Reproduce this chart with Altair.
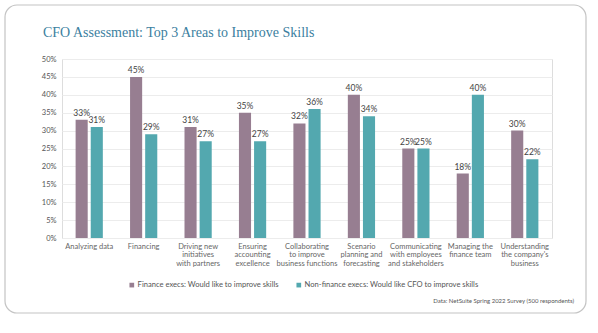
import altair as alt
import pandas as pd
import json

categories = [
    "Analyzing data", "Financing", "Driving new initiatives with partners",
    "Ensuring accounting excellence", "Collaborating to improve business functions",
    "Scenario planning and forecasting", "Communicating with employees and stakeholders",
    "Managing the finance team", "Understanding the company's business",
]
label_lines = [
    ["Analyzing data"], ["Financing"], ["Driving new", "initiatives", "with partners"],
    ["Ensuring", "accounting", "excellence"], ["Collaborating", "to improve", "business functions"],
    ["Scenario", "planning and", "forecasting"], ["Communicating", "with employees", "and stakeholders"],
    ["Managing the", "finance team"], ["Understanding", "the company's", "business"],
]
series = [
    "Finance execs: Would like to improve skills",
    "Non-finance execs: Would like CFO to improve skills",
]
finance_vals = [33, 45, 31, 35, 32, 40, 25, 18, 30]
nonfinance_vals = [31, 29, 27, 27, 36, 34, 25, 40, 22]
colors = ["#977E91", "#53A8AF"]
title_text = "CFO Assessment: Top 3 Areas to Improve Skills"
source_text = "Data: NetSuite Spring 2022 Survey (500 respondents)"

rows = []
for c, a, b in zip(categories, finance_vals, nonfinance_vals):
    rows.append({"cat": c, "series": series[0], "value": a / 100, "label": f"{a}%"})
    rows.append({"cat": c, "series": series[1], "value": b / 100, "label": f"{b}%"})
df = pd.DataFrame(rows)

label_map = {c: l for c, l in zip(categories, label_lines)}
expr = "(" + json.dumps(label_map) + ")[datum.value]"

font = "Lato"

y_enc = alt.Y(
    "value:Q", title=None,
    scale=alt.Scale(domain=[0, 0.5]),
    axis=alt.Axis(
        format=".0%", values=[i / 100 for i in range(0, 51, 5)],
        labelFontSize=7.5, labelColor="#555", labelFont=font, ticks=False,
        domain=False, gridColor="#ececec", labelPadding=6,
    ),
)

base = alt.Chart(df).encode(
    x=alt.X(
        "cat:N", sort=categories, title=None,
        scale=alt.Scale(paddingInner=0.5, paddingOuter=0.25),
        axis=alt.Axis(
            labelExpr=expr, labelAngle=0, labelFontSize=7.5, labelColor="#666",
            labelFont=font, labelLineHeight=8.5, labelPadding=4, ticks=False,
            domain=False, labelBaseline="top", labelLimit=200,
        ),
    ),
    xOffset=alt.XOffset("series:N", sort=series, scale=alt.Scale(paddingInner=0.2)),
    y=y_enc,
)

bars = base.mark_bar().encode(
    color=alt.Color(
        "series:N", sort=series,
        scale=alt.Scale(domain=series, range=colors),
        legend=alt.Legend(
            title=None, orient="none", legendX=66, legendY=222, direction="horizontal",
            symbolType="square", symbolSize=22, labelFontSize=7.6, labelColor="#555",
            labelFont=font, columnPadding=16, labelOffset=2, labelLimit=400,
        ),
    ),
)

texts = base.mark_text(dy=-4, baseline="alphabetic", fontSize=8.5, color="#444", font=font).encode(
    text="label:N",
)

source = alt.Chart(pd.DataFrame({"t": [source_text]})).mark_text(
    align="right", baseline="middle", fontSize=6, color="#555", font=font,
).encode(x=alt.value(512), y=alt.value(242), text="t:N")

title = alt.Chart(pd.DataFrame({"t": [title_text]})).mark_text(
    align="left", baseline="alphabetic", fontSize=14, color="#3B80A0", font="Liberation Serif",
).encode(x=alt.value(-19), y=alt.value(-22), text="t:N")

border = alt.Chart(pd.DataFrame({"a": [0]})).mark_rect(
    fill=None, stroke="#c4c4c4", strokeWidth=1.2, cornerRadius=12, clip=False,
).encode(x=alt.value(-57), x2=alt.value(524), y=alt.value(-54), y2=alt.value(254))

chart = alt.layer(border, bars, texts, source, title).properties(
    width=490, height=179,
    autosize=alt.AutoSizeParams(type="none"),
    padding={"left": 62, "top": 59, "right": 46, "bottom": 95},
).configure_view(stroke=None).configure(background="white")

chart.save("out.html", embed_options={"renderer": "svg", "actions": False})
